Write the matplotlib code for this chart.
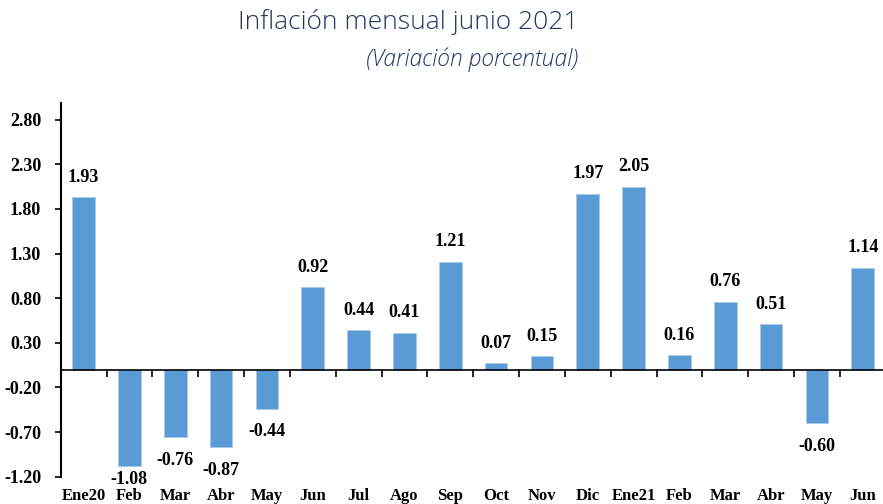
import numpy as np
import matplotlib.pyplot as plt

meses = ['Ene20', 'Feb', 'Mar', 'Abr', 'May', 'Jun', 'Jul', 'Ago', 'Sep', 'Oct',
         'Nov', 'Dic', 'Ene21', 'Feb', 'Mar', 'Abr', 'May', 'Jun']
inflacion = [1.93, -1.08, -0.76, -0.87, -0.44, 0.92, 0.44, 0.41, 1.21, 0.07,
             0.15, 1.97, 2.05, 0.16, 0.76, 0.51, -0.60, 1.14]
yticks = [-1.20, -0.70, -0.20, 0.30, 0.80, 1.30, 1.80, 2.30, 2.80]

serif = ['Liberation Serif', 'DejaVu Serif']
azul = '#5B9BD5'
titulo_color = '#1F3864'

fig = plt.figure(figsize=(8.83, 5.04), dpi=100)
ax = fig.add_axes([0.0687, 0.0542, 1 - 0.0687, 0.742])

x = np.arange(len(meses))
ax.bar(x, inflacion, width=0.495, color=azul, edgecolor='#A9CBEB', linewidth=0.6, zorder=2)

# etiquetas: fuera del extremo, las negativas no bajan mas alla del borde
for xi, v in zip(x, inflacion):
    if v >= 0:
        yl = v + 0.224
    else:
        yl = max(v - 0.257, -1.236)
    ax.text(xi, yl, f'{v:.2f}', ha='center', va='center', fontsize=13,
            fontweight='bold', family=serif, color='black', clip_on=False)

ax.set_xlim(-0.5, 17.44)
ax.set_ylim(-1.2, 2.99)
ax.set_yticks(yticks)
ax.set_yticklabels([f'{t:.2f}' for t in yticks], fontsize=13, fontweight='bold', family=serif)
ax.tick_params(axis='y', direction='out', length=4, width=1.2, pad=10)

for s in ['top', 'right']:
    ax.spines[s].set_visible(False)
ax.spines['left'].set_linewidth(1.5)
ax.spines['bottom'].set_position(('data', 0))
ax.spines['bottom'].set_linewidth(1.2)
ax.set_xticks(x[:-1] + 0.5)
ax.set_xticklabels([])
ax.tick_params(axis='x', direction='out', length=5, width=1.2)

sec = ax.secondary_xaxis('bottom')
sec.set_xticks(x)
sec.set_xticklabels(meses, fontsize=12, fontweight='bold', family=serif)
sec.tick_params(length=0, pad=8)
sec.spines['bottom'].set_visible(False)

fig.text(0.6546, 0.956, 'Inflación mensual junio 2021', ha='right', va='center',
         fontsize=19, color=titulo_color, family='Open Sans', fontweight='light')
fig.text(0.6546, 0.881, '(Variación porcentual)', ha='right', va='center',
         fontsize=16.5, color=titulo_color, family='Open Sans', style='italic',
         fontweight='light')

fig.savefig('out.png', dpi=100)
